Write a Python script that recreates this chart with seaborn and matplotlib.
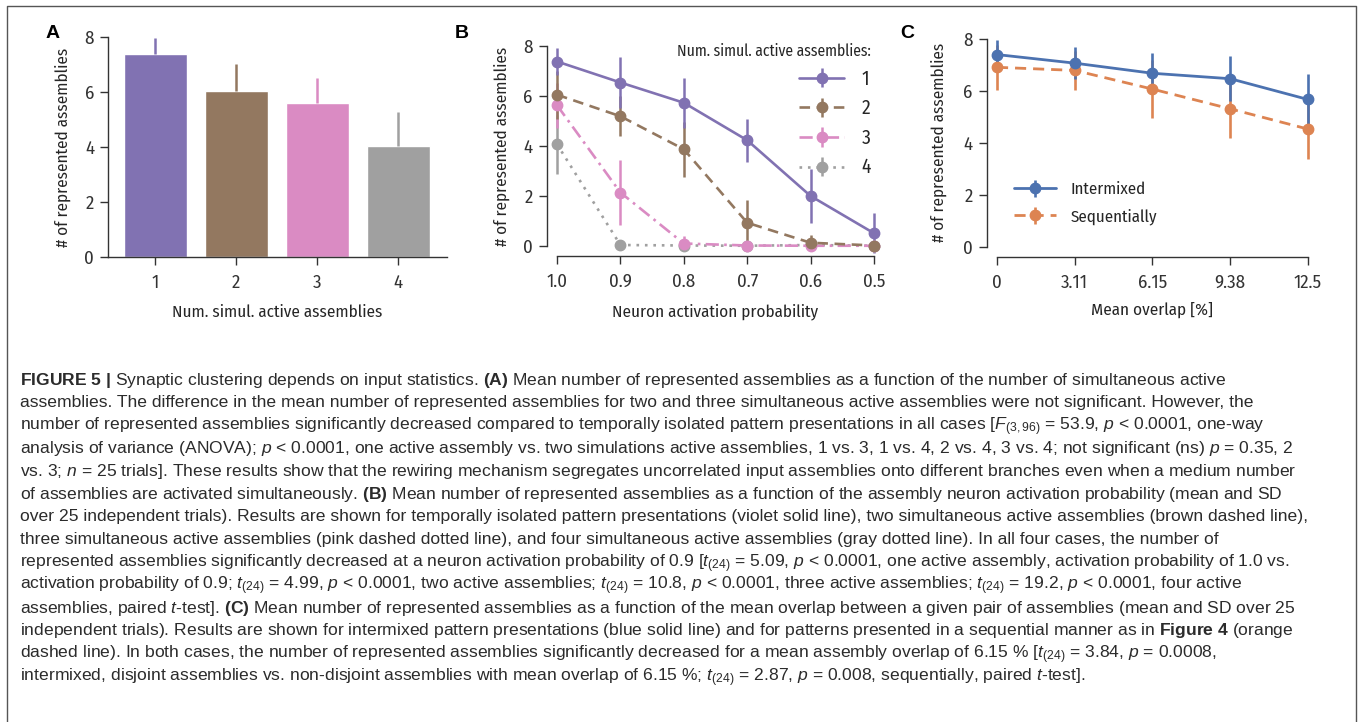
import matplotlib
matplotlib.use("Agg")
import numpy as np
import seaborn as sns
import matplotlib.pyplot as plt
from matplotlib import font_manager
from matplotlib.lines import Line2D

# ---- dados ----
n_simul = ["1", "2", "3", "4"]
media_a = [7.38, 6.05, 5.61, 4.05]
dp_a = [0.60, 0.98, 0.89, 1.23]

prob_ativ = [1.0, 0.9, 0.8, 0.7, 0.6, 0.5]
media_b1 = [7.38, 6.54, 5.73, 4.23, 2.00, 0.51]
dp_b1 = [0.55, 1.01, 1.00, 0.87, 1.07, 0.80]
media_b2 = [6.05, 5.19, 3.87, 0.93, 0.13, 0.02]
dp_b2 = [0.97, 0.80, 1.10, 0.93, 0.30, 0.10]
media_b3 = [5.63, 2.14, 0.10, 0.02, 0.01, 0.01]
dp_b3 = [0.90, 1.31, 0.30, 0.10, 0.05, 0.05]
media_b4 = [4.07, 0.04, 0.02, 0.01, 0.04, 0.01]
dp_b4 = [1.18, 0.10, 0.10, 0.05, 0.10, 0.05]

overlap = ["0", "3.11", "6.15", "9.38", "12.5"]
media_inter = [7.40, 7.07, 6.68, 6.47, 5.67]
dp_inter = [0.55, 0.62, 0.78, 0.86, 0.97]
media_seq = [6.91, 6.79, 6.07, 5.31, 4.53]
dp_seq = [0.86, 0.75, 1.12, 1.13, 1.16]

# ---- estilo ----
sns.set_theme(style="ticks")
nomes = {f.name for f in font_manager.fontManager.ttflist}
if "Fira Sans Condensed" in nomes:
    fonte, esc = "Fira Sans Condensed", 1.0
else:
    fonte, esc = "Roboto", 0.85
plt.rcParams["font.family"] = [fonte, "DejaVu Sans"]
plt.rcParams["mathtext.fontset"] = "custom"
plt.rcParams["mathtext.rm"] = "Liberation Sans"
plt.rcParams["mathtext.it"] = "Liberation Sans:italic"
plt.rcParams["mathtext.bf"] = "Liberation Sans:bold"
plt.rcParams["axes.edgecolor"] = "#333333"
plt.rcParams["axes.linewidth"] = 1.0
plt.rcParams["xtick.color"] = "#333333"
plt.rcParams["ytick.color"] = "#333333"
plt.rcParams["xtick.major.width"] = 1.0
plt.rcParams["ytick.major.width"] = 1.0
plt.rcParams["xtick.major.size"] = 6
plt.rcParams["ytick.major.size"] = 6

tam_tick = 13.5 * esc
tam_label = 12.3 * esc

cores_b = ["#8172B2", "#937860", "#DA8BC3", "#A0A0A0"]
cor_inter, cor_seq = "#4C72B0", "#DD8452"

fig = plt.figure(figsize=(13.6, 7.22), dpi=100)
W, H = 1360, 722


def eixo(x0, x1, y_top, y_bot):
    return fig.add_axes([x0 / W, 1 - y_bot / H, (x1 - x0) / W, (y_bot - y_top) / H])


def sem_clip(cont):
    for art in cont.get_children():
        art.set_clip_on(False)


# ---- painel A ----
axA = eixo(108, 447, 37, 257)
sns.barplot(x=n_simul, y=media_a, hue=n_simul, palette=cores_b, width=0.78,
            legend=False, saturation=1, ax=axA)
for i, (m, s) in enumerate(zip(media_a, dp_a)):
    axA.errorbar(i, m, yerr=[[0], [s]], fmt="none", ecolor=cores_b[i], elinewidth=1.8,
                 capsize=0, zorder=1)
axA.set_xlim(-0.586, 3.605)
axA.set_ylim(0, 8)
axA.set_yticks([0, 2, 4, 6, 8])
sns.despine(ax=axA)
axA.set_xlabel("Num. simul. active assemblies", fontsize=tam_label)
axA.set_ylabel("# of represented assemblies", fontsize=tam_label)
axA.xaxis.set_label_coords(0.5, -0.215)
axA.yaxis.set_label_coords(-0.11, 0.5)
axA.tick_params(labelsize=tam_tick, pad=4)
axA.tick_params(axis="x", pad=6)

# ---- painel B ----
axB = eixo(557, 874, 46, 246)
estilos = ["-", (0, (4, 2.5)), (0, (5, 2, 1, 2)), (0, (1, 2.2))]
series_b = [(media_b1, dp_b1), (media_b2, dp_b2), (media_b3, dp_b3), (media_b4, dp_b4)]
handles = [None] * 4
for k in [3, 2, 1, 0]:
    m, s = series_b[k]
    c = axB.errorbar(prob_ativ, m, yerr=s, color=cores_b[k], ls=estilos[k], lw=1.9,
                     marker="o", ms=7.5, elinewidth=1.8, capsize=0, label=n_simul[k])
    sem_clip(c)
    handles[k] = c
axB.set_xlim(1.0, 0.5)
axB.set_ylim(0, 8)
axB.set_xticks(prob_ativ)
axB.set_xticklabels([f"{v:.1f}" for v in prob_ativ])
axB.set_yticks([0, 2, 4, 6, 8])
sns.despine(ax=axB, offset=7.5)
axB.spines["bottom"].set_bounds(0.5, 1.0)
axB.spines["left"].set_bounds(0, 8)
axB.set_xlabel("Neuron activation probability", fontsize=tam_label)
axB.set_ylabel("# of represented assemblies", fontsize=tam_label)
axB.xaxis.set_label_coords(0.5, -0.285)
axB.yaxis.set_label_coords(-0.148, 0.5)
axB.tick_params(labelsize=tam_tick, pad=4)
axB.tick_params(axis="x", pad=6)
axB.legend(handles=handles, labels=n_simul, title="Num. simul. active assemblies:",
           loc="upper right", bbox_to_anchor=(0.99, 1.015), frameon=False,
           fontsize=14 * esc, title_fontsize=11.2 * esc, handlelength=2.3,
           handletextpad=0.9, labelspacing=0.52, borderpad=0, borderaxespad=0,
           alignment="right")

# ---- painel C ----
axC = eixo(997, 1308, 39, 246.7)
pos_c = np.arange(len(overlap))
cs = axC.errorbar(pos_c, media_seq, yerr=dp_seq, color=cor_seq, ls=(0, (4, 2.5)), lw=2.0,
                  marker="o", ms=7.5, elinewidth=1.9, capsize=0, label="Sequentially")
ci = axC.errorbar(pos_c, media_inter, yerr=dp_inter, color=cor_inter, ls="-", lw=2.0,
                  marker="o", ms=7.5, elinewidth=1.9, capsize=0, label="Intermixed")
sem_clip(cs)
sem_clip(ci)
axC.set_xlim(0, 4)
axC.set_ylim(0, 8)
axC.set_xticks(pos_c)
axC.set_xticklabels(overlap)
axC.set_yticks([0, 2, 4, 6, 8])
sns.despine(ax=axC, offset=7.5)
axC.spines["bottom"].set_bounds(0, 4)
axC.spines["left"].set_bounds(0, 8)
axC.set_xlabel("Mean overlap [%]", fontsize=tam_label)
axC.set_ylabel("# of represented assemblies", fontsize=tam_label)
axC.xaxis.set_label_coords(0.5, -0.265)
axC.yaxis.set_label_coords(-0.161, 0.5)
axC.tick_params(labelsize=tam_tick, pad=4)
axC.tick_params(axis="x", pad=6)
axC.legend(handles=[ci, cs], labels=["Intermixed", "Sequentially"], loc="lower left",
           bbox_to_anchor=(0.055, 0.105), frameon=False, fontsize=12.2 * esc,
           handlelength=2.5, handletextpad=0.85, labelspacing=0.65, borderpad=0,
           borderaxespad=0)

# letras dos painéis
for letra, x in [("A", 53), ("B", 462), ("C", 907)]:
    fig.text(x / W, 1 - 33 / H, letra, fontsize=14, fontweight="bold",
             family="Liberation Sans", ha="center", va="center", color="black")

# moldura
fig.add_artist(Line2D([7 / W, 7 / W, 1356 / W, 1356 / W], [-0.01, 1 - 6 / H, 1 - 6 / H, -0.01],
                      transform=fig.transFigure, color="#555555", lw=1.0))

# ---- legenda da figura ----
legenda = [
    r"$\mathbf{FIGURE\ 5\ |}$ Synaptic clustering depends on input statistics. $\mathbf{(A)}$ Mean number of represented assemblies as a function of the number of simultaneous active",
    r"assemblies. The difference in the mean number of represented assemblies for two and three simultaneous active assemblies were not significant. However, the",
    r"number of represented assemblies significantly decreased compared to temporally isolated pattern presentations in all cases [$F_{(3,96)}$ = 53.9, $p$ < 0.0001, one-way",
    r"analysis of variance (ANOVA); $p$ < 0.0001, one active assembly vs. two simulations active assemblies, 1 vs. 3, 1 vs. 4, 2 vs. 4, 3 vs. 4; not significant (ns) $p$ = 0.35, 2",
    r"vs. 3; $n$ = 25 trials]. These results show that the rewiring mechanism segregates uncorrelated input assemblies onto different branches even when a medium number",
    r"of assemblies are activated simultaneously. $\mathbf{(B)}$ Mean number of represented assemblies as a function of the assembly neuron activation probability (mean and SD",
    r"over 25 independent trials). Results are shown for temporally isolated pattern presentations (violet solid line), two simultaneous active assemblies (brown dashed line),",
    r"three simultaneous active assemblies (pink dashed dotted line), and four simultaneous active assemblies (gray dotted line). In all four cases, the number of",
    r"represented assemblies significantly decreased at a neuron activation probability of 0.9 [$t_{(24)}$ = 5.09, $p$ < 0.0001, one active assembly, activation probability of 1.0 vs.",
    r"activation probability of 0.9; $t_{(24)}$ = 4.99, $p$ < 0.0001, two active assemblies; $t_{(24)}$ = 10.8, $p$ < 0.0001, three active assemblies; $t_{(24)}$ = 19.2, $p$ < 0.0001, four active",
    r"assemblies, paired $t$-test]. $\mathbf{(C)}$ Mean number of represented assemblies as a function of the mean overlap between a given pair of assemblies (mean and SD over 25",
    r"independent trials). Results are shown for intermixed pattern presentations (blue solid line) and for patterns presented in a sequential manner as in $\mathbf{Figure\ 4}$ (orange",
    r"dashed line). In both cases, the number of represented assemblies significantly decreased for a mean assembly overlap of 6.15 % [$t_{(24)}$ = 3.84, $p$ = 0.0008,",
    r"intermixed, disjoint assemblies vs. non-disjoint assemblies with mean overlap of 6.15 %; $t_{(24)}$ = 2.87, $p$ = 0.008, sequentially, paired $t$-test].",
]
for i, linha in enumerate(legenda):
    fig.text(20 / W, 1 - (384.5 + i * 22.8) / H, linha, fontsize=12.6, family="Liberation Sans",
             color="#2b2b2b", ha="left", va="baseline")

fig.savefig("out.png", dpi=100)
